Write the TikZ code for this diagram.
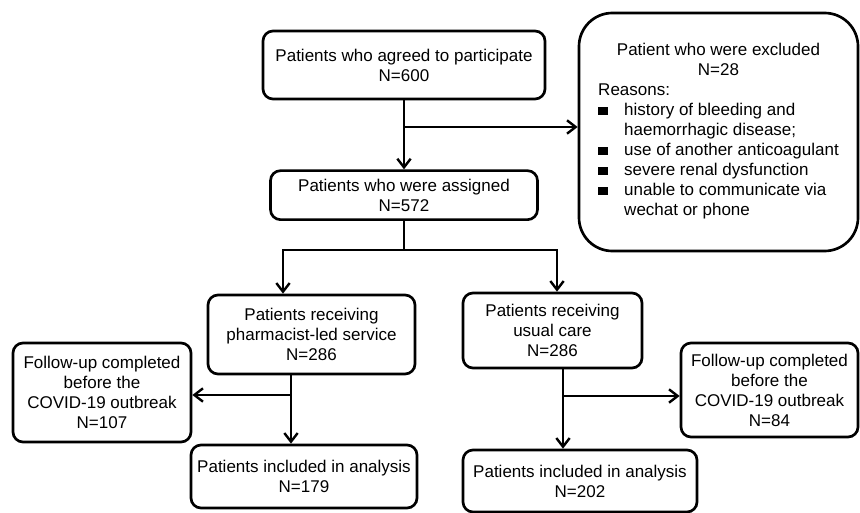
\documentclass[tikz,border=0pt]{standalone}
\usepackage{fontspec}
\setmainfont{Liberation Sans}
\usepackage{tikz}
\usetikzlibrary{arrows.meta,positioning}

\newcommand{\sqbullet}{\rule[0.6pt]{7.5pt}{6.5pt}}

\begin{document}
\begin{tikzpicture}[x=0.75pt, y=-0.75pt, node distance=51.75pt,
    box/.style={draw, line width=2pt, rounded corners=7.5pt, inner sep=0pt,
      align=center, font=\fontsize{12.75}{15}\selectfont},
    line/.style={line width=1.8pt},
    >={Straight Barb[length=6.5pt,width=10pt]}]
        \useasboundingbox (0,0) rectangle (860,513);

        \node[box, minimum width=211.5pt, minimum height=51pt] (A) at (404,65)
          {Patients who agreed to participate\\N=600};
        \node[box, minimum width=200.25pt, minimum height=36.75pt] (S) [below=of A]
          {Patients who were assigned\\N=572};
        \node[box, rounded corners=25pt, minimum width=209.25pt, minimum height=178.5pt] (E) at (718.5,132)
          {\begin{tabular}{@{}l@{\hspace{12pt}}l@{}}
             \multicolumn{2}{c}{Patient who were excluded}\\
             \multicolumn{2}{c}{N=28}\\
             \multicolumn{2}{@{}l}{Reasons:}\\
             \sqbullet & history of bleeding and\\
                       & haemorrhagic disease;\\
             \sqbullet & use of another anticoagulant\\
             \sqbullet & severe renal dysfunction\\
             \sqbullet & unable to communicate via\\
                       & wechat or phone
           \end{tabular}};

        \node[box, minimum width=155.25pt, minimum height=59.25pt] (P) at (311.5,334.5)
          {Patients receiving\\pharmacist-led service\\N=286};
        \node[box, minimum width=134.25pt, minimum height=56.25pt] (U) at (552.5,330.5)
          {Patients receiving\\usual care\\N=286};

        \node[box, minimum width=133.5pt, minimum height=74.25pt] (F1) at (102,392.5)
          {Follow-up completed\\before the\\COVID-19 outbreak\\N=107};
        \node[box, minimum width=132.75pt, minimum height=70.5pt] (F2) at (769.5,390)
          {Follow-up completed\\before the\\COVID-19 outbreak\\N=84};

        \node[box, minimum width=169.5pt, minimum height=47.25pt] (I1) at (304,476.5)
          {Patients included in analysis\\N=179};
        \node[box, minimum width=175.5pt, minimum height=46.5pt] (I2) at (580,481)
          {Patients included in analysis\\N=202};

        \coordinate (b1) at (404,127);
        \coordinate (bL) at (283,250);
        \coordinate (bR) at (557,250);
        \coordinate (b2) at (S.south |- bL);
        \coordinate (c1) at (291,395);
        \coordinate (c2) at (563,396);

        \draw[line, ->] (A) -- (S);
        \draw[line, ->] (b1) -- (b1 -| E.west);
        \draw[line] (S.south) -- (b2);
        \draw[line, ->] (b2) -| (bL |- P.north);
        \draw[line, ->] (b2) -| (bR |- U.north);
        \draw[line, ->] (c1 |- P.south) -- (c1 |- I1.north);
        \draw[line, ->] (c1) -- (c1 -| F1.east);
        \draw[line, ->] (c2 |- U.south) -- (c2 |- I2.north);
        \draw[line, ->] (c2) -- (c2 -| F2.west);
  \end{tikzpicture}
\end{document}
